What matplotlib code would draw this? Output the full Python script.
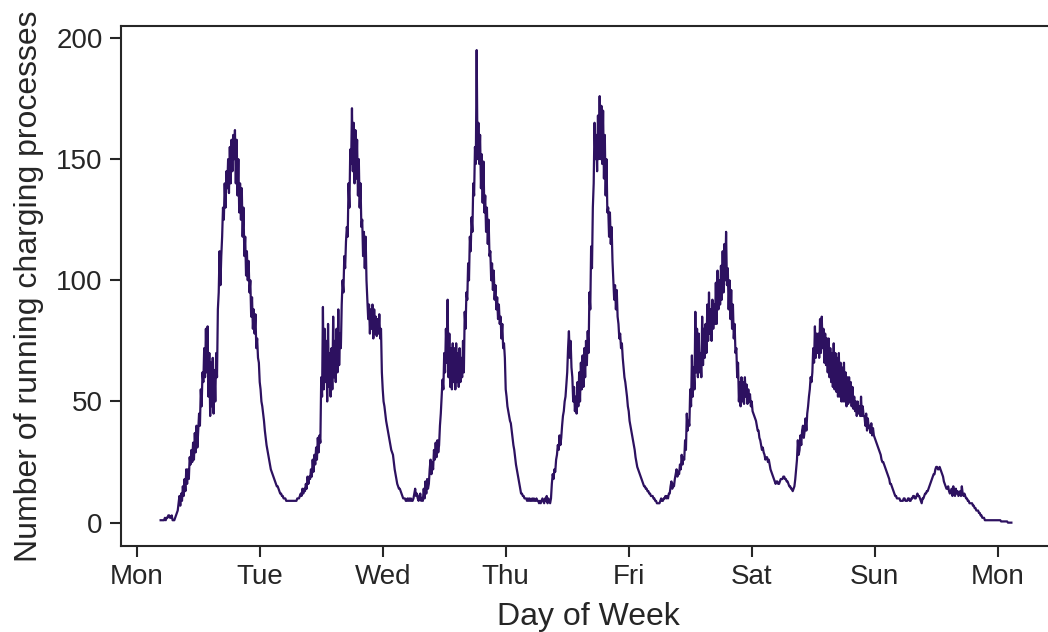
import matplotlib
matplotlib.use('Agg')
import matplotlib.pyplot as plt
import numpy as np

# running charging processes, one value every 10 minutes (6 per hour, one row per hour)
# the first Monday starts at 04:40
mon = [1, 1,
       1, 1, 1, 2, 1, 2,
       2, 3, 3, 2, 2, 3,
       1, 1, 1, 2, 3, 4,
       5, 8, 11, 7, 12, 9,
       15, 11, 18, 13, 22, 16,
       22, 18, 27, 24, 30, 25,
       33, 26, 37, 29, 40, 31,
       38, 45, 40, 55, 48, 62,
       58, 72, 60, 80, 62, 81,
       52, 70, 44, 66, 48, 68,
       45, 63, 50, 70, 60, 88,
       95, 112, 98, 110, 118, 130,
       125, 140, 130, 145, 138, 150,
       136, 155, 140, 158, 145, 160,
       150, 162, 140, 158, 135, 150,
       128, 140, 125, 138, 118, 130,
       110, 118, 102, 112, 100, 108,
       95, 100, 85, 93, 80, 88,
       78, 86, 72, 76, 68, 66]
tue = [58, 55, 50, 48, 45, 42,
       38, 35, 32, 30, 28, 26,
       24, 22, 21, 20, 19, 18,
       17, 16, 15, 15, 14, 13,
       12, 12, 11, 11, 10, 10,
       10, 9, 9, 9, 9, 9,
       9, 9, 9, 9, 9, 9,
       9, 9, 10, 10, 10, 11,
       12, 11, 14, 12, 14, 13,
       16, 14, 19, 16, 19, 18,
       22, 19, 26, 21, 28, 24,
       31, 26, 35, 29, 36, 33,
       60, 52, 89, 55, 80, 58,
       75, 50, 82, 56, 70, 52,
       72, 55, 85, 60, 75, 58,
       80, 62, 88, 65, 78, 72,
       90, 100, 95, 110, 105, 116,
       122, 118, 140, 130, 154, 148,
       171, 145, 165, 140, 162, 142,
       158, 135, 150, 130, 140, 122,
       125, 110, 120, 105, 118, 100,
       92, 84, 90, 78, 88, 80,
       90, 76, 88, 78, 85, 77,
       84, 78, 86, 76, 80, 62]
wed = [55, 50, 48, 45, 42, 40,
       38, 36, 34, 32, 30, 29,
       28, 25, 22, 20, 18, 16,
       15, 14, 14, 13, 12, 11,
       10, 10, 10, 9, 9, 10,
       9, 10, 9, 10, 9, 9,
       10, 12, 14, 11, 12, 10,
       9, 11, 12, 9, 10, 9,
       14, 10, 17, 12, 18, 14,
       16, 22, 26, 20, 25, 22,
       30, 26, 33, 27, 34, 29,
       32, 40, 45, 52, 59, 55,
       70, 62, 80, 66, 92, 60,
       78, 56, 72, 55, 74, 58,
       72, 55, 74, 58, 70, 56,
       72, 58, 68, 60, 75, 62,
       87, 80, 95, 92, 107, 100,
       118, 112, 126, 120, 140, 135,
       155, 148, 195, 150, 165, 148,
       160, 138, 152, 132, 149, 128,
       135, 120, 130, 115, 125, 110,
       112, 100, 107, 96, 104, 92,
       98, 88, 93, 84, 90, 82,
       85, 76, 82, 72, 74, 68]
thu = [55, 52, 48, 46, 44, 42,
       41, 38, 35, 32, 30, 27,
       24, 22, 20, 18, 16, 14,
       12, 12, 11, 11, 10, 10,
       10, 9, 10, 9, 10, 9,
       9, 10, 9, 10, 9, 9,
       10, 9, 9, 8, 9, 8,
       9, 10, 9, 8, 10, 9,
       11, 8, 10, 9, 8, 10,
       16, 20, 18, 22, 21, 26,
       28, 32, 30, 36, 32, 35,
       40, 44, 46, 50, 52, 57,
       62, 72, 79, 68, 75, 64,
       60, 50, 56, 46, 52, 45,
       58, 48, 62, 50, 66, 55,
       69, 56, 72, 60, 75, 65,
       79, 70, 95, 88, 114, 105,
       130, 140, 165, 150, 160, 145,
       168, 150, 176, 150, 172, 148,
       170, 142, 160, 135, 150, 128,
       130, 118, 128, 115, 122, 108,
       100, 92, 98, 88, 96, 85,
       82, 76, 78, 72, 74, 68,
       64, 60, 58, 55, 52, 48]
fri = [46, 42, 40, 38, 36, 34,
       32, 30, 27, 25, 23, 22,
       21, 20, 19, 18, 17, 16,
       15, 15, 14, 14, 13, 13,
       12, 12, 11, 11, 11, 10,
       10, 9, 9, 8, 8, 8,
       8, 9, 10, 9, 9, 10,
       10, 11, 10, 11, 10, 12,
       12, 15, 17, 14, 16, 15,
       18, 20, 22, 19, 21, 20,
       24, 22, 28, 24, 27, 26,
       34, 30, 45, 38, 42, 40,
       55, 48, 69, 52, 64, 55,
       87, 62, 80, 60, 78, 62,
       70, 60, 85, 65, 80, 68,
       82, 70, 90, 75, 95, 78,
       88, 75, 92, 80, 90, 82,
       99, 82, 104, 88, 100, 90,
       106, 92, 112, 95, 115, 100,
       120, 98, 105, 88, 100, 84,
       96, 80, 90, 76, 82, 70,
       72, 60, 66, 50, 58, 48,
       60, 50, 58, 49, 60, 52,
       57, 49, 55, 50, 53, 48]
sat = [50, 46, 45, 44, 43, 42,
       40, 38, 38, 35, 34, 32,
       30, 31, 29, 28, 26, 27,
       27, 25, 26, 24, 22, 21,
       20, 19, 18, 17, 16, 17,
       17, 16, 16, 17, 18, 18,
       18, 19, 19, 18, 18, 17,
       17, 16, 15, 15, 14, 14,
       13, 14, 15, 18, 22, 26,
       34, 28, 30, 36, 32, 38,
       40, 35, 38, 43, 38, 45,
       48, 52, 55, 60, 58, 62,
       72, 66, 81, 68, 78, 70,
       78, 68, 84, 70, 85, 72,
       80, 66, 78, 65, 76, 62,
       76, 60, 72, 58, 70, 56,
       74, 55, 70, 54, 68, 52,
       70, 52, 66, 50, 64, 50,
       66, 50, 62, 48, 60, 49,
       60, 50, 58, 48, 56, 47,
       52, 46, 50, 44, 50, 45,
       48, 44, 52, 44, 48, 44,
       44, 40, 45, 38, 43, 39,
       40, 37, 41, 36, 39, 36]
sun = [35, 34, 33, 32, 31, 30,
       29, 28, 26, 25, 25, 24,
       23, 22, 21, 20, 19, 18,
       16, 16, 15, 14, 13, 12,
       11, 11, 10, 10, 10, 10,
       9, 9, 9, 9, 10, 10,
       9, 9, 9, 10, 10, 9,
       9, 10, 10, 11, 11, 10,
       10, 11, 12, 11, 11, 10,
       9, 8, 10, 10, 11, 12,
       12, 13, 13, 14, 15, 16,
       17, 18, 19, 20, 20, 22,
       23, 23, 22, 22, 23, 22,
       21, 20, 19, 17, 16, 15,
       14, 14, 15, 13, 12, 13,
       14, 11, 15, 12, 11, 14,
       12, 13, 11, 12, 13, 11,
       15, 12, 11, 12, 11, 10,
       10, 9, 9, 8, 8, 8,
       8, 7, 7, 6, 6, 5,
       5, 5, 4, 4, 3, 3,
       2, 2, 2, 1, 1, 1,
       1, 1, 1, 1, 1, 1,
       1, 1, 1, 1, 1, 1]
mon2 = [1, 1, 1, 1, 0.5, 0.5,
        0.5, 0.5, 0.5, 0.5, 0.5, 0.5,
        0, 0, 0, 0, 0]

day_labels = ['Mon', 'Tue', 'Wed', 'Thu', 'Fri', 'Sat', 'Sun', 'Mon']

counts = mon + tue + wed + thu + fri + sat + sun + mon2
start = 28  # 04:40 on the 10-minute grid
t = (start + np.arange(len(counts))) / 144.0

plt.rcParams['font.family'] = ['Liberation Sans', 'DejaVu Sans']
plt.rcParams['text.color'] = '.15'
plt.rcParams['axes.labelcolor'] = '.15'
plt.rcParams['xtick.color'] = '.15'
plt.rcParams['ytick.color'] = '.15'

fig = plt.figure(figsize=(10.48, 6.32), dpi=100)
ax = fig.add_axes([0.1152, 0.1366, 0.8915, 0.8223])

ax.plot(t, counts, color='#2d1160', linewidth=1.6)

ax.set_xlim(-0.13, 7.466)
ax.set_ylim(-9.5, 204.95)
ax.set_xticks(range(8))
ax.set_xticklabels(day_labels)
ax.set_yticks([0, 50, 100, 150, 200])

for s in ax.spines.values():
    s.set_linewidth(1.5)
    s.set_color('.15')
ax.spines['right'].set_visible(False)
ax.tick_params(labelsize=20, length=8, width=1.5, pad=5)

ax.set_xlabel('Day of Week', fontsize=23, labelpad=9)
ax.set_ylabel('Number of running charging processes', fontsize=23, labelpad=9)

plt.savefig('out.png', dpi=100)
